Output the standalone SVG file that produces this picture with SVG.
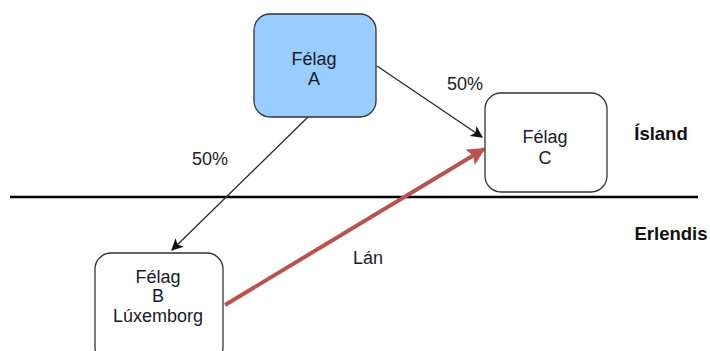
<svg xmlns="http://www.w3.org/2000/svg" width="710" height="351" viewBox="0 0 710 351">
<style>
.box{fill:#fff;stroke:#333;stroke-width:1.3}
.t{font-family:"Liberation Sans",Arial,sans-serif;font-size:18px;fill:#1a1a2a;text-anchor:middle}
.b{font-family:"Liberation Sans",Arial,sans-serif;font-size:18.5px;font-weight:bold;fill:#111;text-anchor:middle}
</style>
<defs>
<marker id="ah" viewBox="0 0 10 10" refX="9" refY="5" markerWidth="12" markerHeight="12" markerUnits="userSpaceOnUse" orient="auto">
<path d="M0,0 L10,5 L0,10 L2.5,5 z" fill="#111"/>
</marker>
<marker id="ahr" viewBox="0 0 10 10" refX="9" refY="5" markerWidth="4.5" markerHeight="4.5" orient="auto">
<path d="M0,0 L10,5 L0,10 L2,5 z" fill="#b85450"/>
</marker>
</defs>
<line x1="10" y1="197" x2="698" y2="197" stroke="#000" stroke-width="2.5"/>
<g id="connectors">
<line x1="308" y1="117" x2="172" y2="250" stroke="#222" stroke-width="1.2" marker-end="url(#ah)"/>
<line x1="377" y1="66" x2="482" y2="137" stroke="#222" stroke-width="1.2" marker-end="url(#ah)"/>
<line x1="225" y1="305" x2="484" y2="149" stroke="#b85450" stroke-width="4" marker-end="url(#ahr)"/>
</g>
<g id="nodeA">
<rect x="254" y="14" width="122" height="103" rx="16" fill="#99ccff" stroke="#333" stroke-width="1.3"/>
<text class="t" x="314" y="65">Félag</text>
<text class="t" x="314" y="85">A</text>
</g>
<g id="nodeC">
<rect class="box" x="485" y="93" width="122" height="99" rx="16"/>
<text class="t" x="545" y="143">Félag</text>
<text class="t" x="545" y="164">C</text>
</g>
<g id="nodeB">
<rect class="box" x="95" y="253" width="128" height="110" rx="16"/>
<text class="t" x="158" y="283">Félag</text>
<text class="t" x="158" y="302">B</text>
<text class="t" x="158" y="322">Lúxemborg</text>
</g>
<text class="t" x="465" y="90">50%</text>
<text class="t" x="210" y="165">50%</text>
<text class="t" x="368" y="264">Lán</text>
<text class="b" x="661" y="140">Ísland</text>
<text class="b" x="671" y="240">Erlendis</text>
</svg>
